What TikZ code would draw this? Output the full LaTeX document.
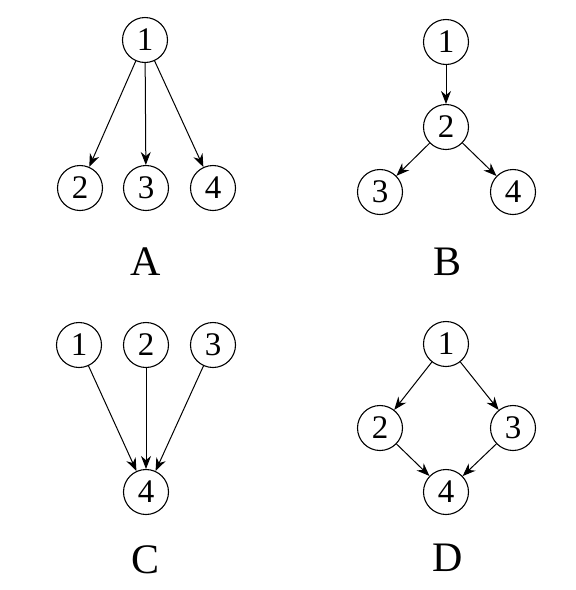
\documentclass[tikz,border=0pt]{standalone}
\usepackage{fontspec}
\setmainfont{Liberation Serif}
\usetikzlibrary{arrows.meta}
\begin{document}
\begin{tikzpicture}[x=1pt,y=-1pt,
  vtx/.style={circle,draw,line width=1.1pt,minimum size=45pt,inner sep=0pt,font=\fontsize{33}{36}\selectfont},
  lbl/.style={font=\fontsize{42}{46}\selectfont,inner sep=0pt},
  arr/.style={line width=1pt,-{Stealth[length=13pt,width=10pt]}}]
\useasboundingbox (0,0) rectangle (576,590);
% A
\node[vtx] (a1) at (145,40) {1};
\node[vtx] (a2) at (80,188) {2};
\node[vtx] (a3) at (146,188) {3};
\node[vtx] (a4) at (213,188) {4};
\node[lbl] (la) at (146,262) {A};
\draw[arr] (a1) -- (a2);
\draw[arr] (a1) -- (a3);
\draw[arr] (a1) -- (a4);
% B
\node[vtx] (b1) at (446,42) {1};
\node[vtx] (b2) at (446,127) {2};
\node[vtx] (b3) at (380,192) {3};
\node[vtx] (b4) at (513,192) {4};
\node[lbl] (lb) at (448,262) {B};
\draw[arr] (b1) -- (b2);
\draw[arr] (b2) -- (b3);
\draw[arr] (b2) -- (b4);
% C
\node[vtx] (c1) at (79,345) {1};
\node[vtx] (c2) at (146,345) {2};
\node[vtx] (c3) at (213,345) {3};
\node[vtx] (c4) at (146,492) {4};
\node[lbl] (lc) at (146,560) {C};
\draw[arr] (c1) -- (c4);
\draw[arr] (c2) -- (c4);
\draw[arr] (c3) -- (c4);
% D
\node[vtx] (d1) at (446,344) {1};
\node[vtx] (d2) at (380,428) {2};
\node[vtx] (d3) at (513,428) {3};
\node[vtx] (d4) at (446,492) {4};
\node[lbl] (ld) at (448,558) {D};
\draw[arr] (d1) -- (d2);
\draw[arr] (d1) -- (d3);
\draw[arr] (d2) -- (d4);
\draw[arr] (d3) -- (d4);
\end{tikzpicture}
\end{document}
